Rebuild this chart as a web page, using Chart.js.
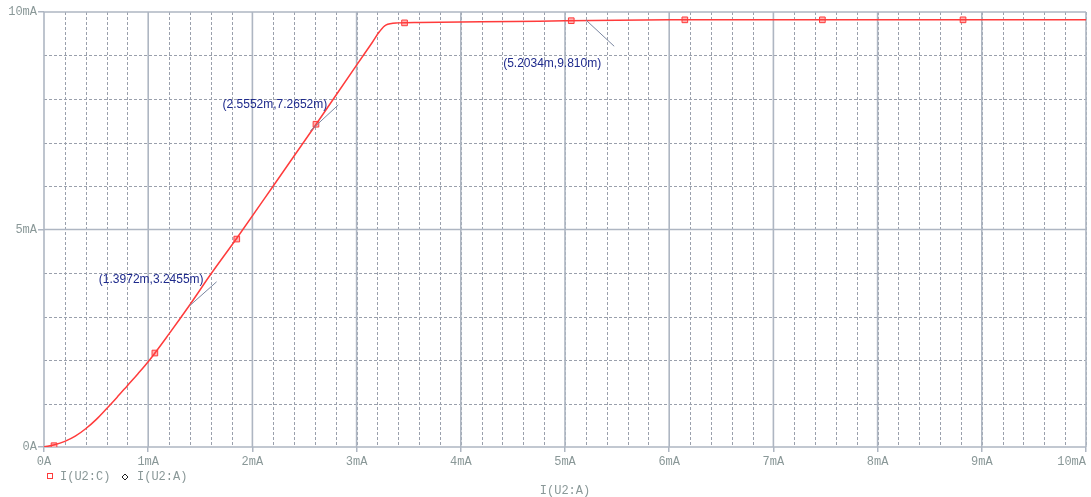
<!DOCTYPE html>
<html>
<head>
<meta charset="utf-8">
<script src="https://cdn.jsdelivr.net/npm/chart.js@4/dist/chart.umd.min.js"></script>
<style>
	body { margin: 0; background: #fff; }
	#wrap { width: 1091px; height: 497px; position: relative; }
</style>
</head>
<body>
<div id="wrap"><canvas id="plot"></canvas></div>
<script>
// I(U2:C) against I(U2:A), both in mA
const curveX = [0, 0.1, 0.2, 0.3, 0.4, 0.5, 0.6, 0.7, 0.8, 0.9, 1.0, 1.2, 1.4, 1.6, 1.85, 2.2, 2.6, 3.0, 3.15, 3.22, 3.28, 3.4, 3.6, 4.0, 4.5, 5.0, 6.0, 7.0, 8.0, 9.0, 10.0];
const curveY = [0, 0.05, 0.13, 0.25, 0.42, 0.63, 0.88, 1.14, 1.41, 1.68, 1.96, 2.6, 3.27, 3.97, 4.8, 6.0, 7.38, 8.78, 9.3, 9.55, 9.7, 9.75, 9.76, 9.77, 9.78, 9.8, 9.82, 9.82, 9.82, 9.82, 9.82];

const markerX = [0.096, 1.064, 1.85, 2.61, 3.46, 5.06, 6.15, 7.47, 8.82];
const markerY = [0.03, 2.16, 4.78, 7.42, 9.75, 9.8, 9.82, 9.82, 9.82];

// cursor readouts
const annX = [1.3972, 2.5552, 5.2034];
const annY = [3.2455, 7.2652, 9.810];
const annText = ["(1.3972m,3.2455m)", "(2.5552m,7.2652m)", "(5.2034m,9.810m)"];

const xTicks = [0, 1, 2, 3, 4, 5, 6, 7, 8, 9, 10];
const yTicks = [0, 5, 10];
const xMinorStep = 0.2;
const yMinorStep = 1;

const legendNames = ["I(U2:C)", "I(U2:A)"];
const xTitle = "I(U2:A)";

const RED = "#ff3b3b";
const LABEL = "#8a9898";
const MONO = "'Liberation Mono', 'DejaVu Sans Mono', monospace";

function fmtAmp(v) {
	return v === 0 ? "0A" : v + "mA";
}

const gridPlugin = {
	id: "pspiceGrid",
	beforeDatasetsDraw(chart) {
		const { ctx, chartArea: a, scales: { x, y } } = chart;
		ctx.save();
		// dashed minor lines
		ctx.strokeStyle = "#9aa0ac";
		ctx.lineWidth = 1;
		ctx.setLineDash([3, 2]);
		for (let v = xMinorStep; v < 10; v += xMinorStep) {
			const px = Math.round(x.getPixelForValue(v)) + 0.5;
			ctx.beginPath(); ctx.moveTo(px, a.top); ctx.lineTo(px, a.bottom); ctx.stroke();
		}
		for (let v = yMinorStep; v < 10; v += yMinorStep) {
			if (yTicks.includes(v)) continue;
			const py = Math.round(y.getPixelForValue(v)) + 0.5;
			ctx.beginPath(); ctx.moveTo(a.left, py); ctx.lineTo(a.right, py); ctx.stroke();
		}
		// solid major lines
		ctx.setLineDash([]);
		ctx.strokeStyle = "#aeb6c2";
		ctx.lineWidth = 1.6;
		for (const v of xTicks) {
			const px = x.getPixelForValue(v);
			ctx.beginPath(); ctx.moveTo(px, a.top); ctx.lineTo(px, a.bottom); ctx.stroke();
		}
		for (const v of yTicks) {
			const py = y.getPixelForValue(v);
			ctx.beginPath(); ctx.moveTo(a.left, py); ctx.lineTo(a.right, py); ctx.stroke();
		}
		ctx.restore();
	},
	afterDatasetsDraw(chart) {
		const { ctx, scales: { x, y } } = chart;
		// leader line end, then text anchor relative to it
		const offs = [[27, -24], [28, -26], [28, 26]];
		const textAt = [[-13, -2], [-11, 0], [-13, 17]];
		ctx.save();
		ctx.font = "12px 'Liberation Sans', Arial, sans-serif";
		ctx.textAlign = "right";
		ctx.textBaseline = "middle";
		for (let i = 0; i < annX.length; i++) {
			const px = x.getPixelForValue(annX[i]);
			const py = y.getPixelForValue(annY[i]);
			const ex = px + offs[i][0], ey = py + offs[i][1];
			ctx.strokeStyle = "#7a86a0";
			ctx.lineWidth = 1;
			ctx.beginPath(); ctx.moveTo(px, py); ctx.lineTo(ex, ey); ctx.stroke();
			ctx.fillStyle = "#1e2a8c";
			ctx.fillText(annText[i], ex + textAt[i][0], ey + textAt[i][1]);
		}
		ctx.restore();
	},
	afterDraw(chart) {
		const { ctx, chartArea: a } = chart;
		ctx.save();
		ctx.font = "12px " + MONO;
		ctx.textBaseline = "middle";
		ctx.textAlign = "left";
		// legend: red square for the trace, small black diamond for the x variable
		ctx.strokeStyle = RED;
		ctx.lineWidth = 1;
		ctx.strokeRect(47.5, 473.5, 5, 5);
		ctx.fillStyle = LABEL;
		ctx.fillText(legendNames[0], 60, 477);
		ctx.strokeStyle = "#222";
		ctx.beginPath();
		ctx.moveTo(125, 474); ctx.lineTo(128, 477); ctx.lineTo(125, 480); ctx.lineTo(122, 477); ctx.closePath();
		ctx.stroke();
		ctx.fillText(legendNames[1], 137, 477);
		ctx.textAlign = "center";
		ctx.fillText(xTitle, (a.left + a.right) / 2, 491);
		ctx.restore();
	}
};

const curve = curveX.map((v, i) => ({ x: v, y: curveY[i] }));
const markers = markerX.map((v, i) => ({ x: v, y: markerY[i] }));

new Chart(document.getElementById("plot"), {
	type: "line",
	data: {
		datasets: [{
			label: legendNames[0],
			data: curve,
			borderColor: RED,
			borderWidth: 1.5,
			pointRadius: 0,
			cubicInterpolationMode: "monotone",
			fill: false
		}, {
			label: "markers",
			data: markers,
			showLine: false,
			pointStyle: "rect",
			pointRadius: 4,
			borderColor: RED,
			backgroundColor: "#ffb4b4",
			borderWidth: 1
		}]
	},
	options: {
		responsive: true,
		maintainAspectRatio: false,
		animation: false,
		layout: { padding: { top: 12, right: 4, left: 0, bottom: 0 } },
		plugins: {
			legend: { display: false },
			tooltip: { enabled: false }
		},
		scales: {
			x: {
				type: "linear",
				min: 0,
				max: 10,
				ticks: {
					stepSize: 1,
					autoSkip: false,
					maxRotation: 0,
					padding: 3,
					color: LABEL,
					font: { family: MONO, size: 12 },
					// last label sits left of its tick, like the original
					callback: v => fmtAmp(v) + (v === 10 ? "    " : "")
				},
				grid: { drawOnChartArea: false, tickLength: 5, color: "#aeb6c2", lineWidth: 1.5 },
				border: { display: false },
				afterFit: s => { s.height = 50; s.paddingLeft = 0; s.paddingRight = 0; }
			},
			y: {
				min: 0,
				max: 10,
				ticks: {
					stepSize: 5,
					padding: 1,
					color: LABEL,
					font: { family: MONO, size: 12 },
					callback: v => fmtAmp(v)
				},
				grid: { drawOnChartArea: false, tickLength: 6, color: "#aeb6c2", lineWidth: 1.5 },
				border: { display: false },
				afterFit: s => { s.width = 44; s.paddingTop = 0; s.paddingBottom = 0; }
			}
		}
	},
	plugins: [gridPlugin]
});
</script>
</body>
</html>
